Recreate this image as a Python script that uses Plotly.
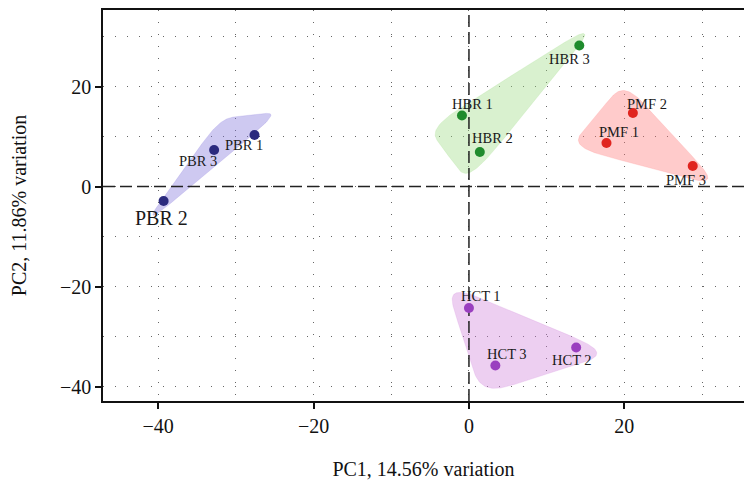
import numpy as np
import plotly.graph_objects as go

# ---- data ----
groups = ["PBR", "HBR", "PMF", "HCT"]
sample_labels = {
    "PBR": ["PBR 1", "PBR 3", "PBR 2"],
    "HBR": ["HBR 1", "HBR 2", "HBR 3"],
    "PMF": ["PMF 1", "PMF 2", "PMF 3"],
    "HCT": ["HCT 1", "HCT 2", "HCT 3"],
}
pc1 = {
    "PBR": [-27.6, -32.8, -39.3],
    "HBR": [-0.9, 1.4, 14.2],
    "PMF": [17.7, 21.1, 28.8],
    "HCT": [0.0, 13.8, 3.4],
}
pc2 = {
    "PBR": [10.3, 7.3, -2.9],
    "HBR": [14.2, 6.9, 28.2],
    "PMF": [8.7, 14.7, 4.1],
    "HCT": [-24.3, -32.2, -35.8],
}
x_ticks = [-40, -20, 0, 20]
y_ticks = [-40, -20, 0, 20]

# ---- style ----
point_color = {"PBR": "#2b2a7e", "HBR": "#1f8b2d", "PMF": "#e0251f", "HCT": "#9a3fbf"}
fill_color = {"PBR": "rgba(125,112,217,0.38)", "HBR": "rgba(155,218,130,0.38)",
              "PMF": "rgba(255,118,118,0.38)", "HCT": "rgba(208,130,218,0.38)"}
# label offsets in pixels (dx right, dy down) and font sizes
label_off = {
    "PBR 1": (-11, 10), "PBR 3": (-16, 11), "PBR 2": (-2, 17),
    "HBR 1": (11, -12), "HBR 2": (13, -14), "HBR 3": (-10, 13),
    "PMF 1": (13, -11), "PMF 2": (14, -9), "PMF 3": (-7, 14),
    "HCT 1": (12, -12), "HCT 2": (-4, 12), "HCT 3": (12, -12),
}
label_size = {"PBR 2": 20}

W, H = 744, 484
ML, MR, MT, MB = 103, 0, 10, 83
xr = [-47.1, 35.4]
yr = [-42.9, 35.3]
PW, PH = W - ML - MR, H - MT - MB
kx = PW / (xr[1] - xr[0])
ky = PH / (yr[1] - yr[0])
FONT = "Liberation Serif"
EXPAND_PX = (37.0, 32.0)   # outward push of hull vertices (x, y), pixels
DIR_YSCALE = 1.7           # y weighting when computing push directions
SHAPE = 0.3                # X-spline shape


def hull(pts):
    pts = sorted(set(pts))
    def cross(o, a, b):
        return (a[0]-o[0])*(b[1]-o[1]) - (a[1]-o[1])*(b[0]-o[0])
    lower, upper = [], []
    for p in pts:
        while len(lower) >= 2 and cross(lower[-2], lower[-1], p) <= 0:
            lower.pop()
        lower.append(p)
    for p in reversed(pts):
        while len(upper) >= 2 and cross(upper[-2], upper[-1], p) <= 0:
            upper.pop()
        upper.append(p)
    return lower[:-1] + upper[:-1]


def f_blend(num, den):
    p = 2 * den * den
    u = num / den
    return u ** 3 * (10 - p + (2 * p - 15) * u + (6 - p) * u * u)


def xspline_closed(P, s=0.5, steps=60):
    P = np.asarray(P, float)
    n = len(P)
    out = []
    for k in range(n):
        p0, p1, p2, p3 = P[(k - 1) % n], P[k], P[(k + 1) % n], P[(k + 2) % n]
        for t in np.linspace(0, 1, steps, endpoint=False):
            a0 = f_blend(t - s, -1 - s) if t < s else 0.0
            a2 = f_blend(t + s, 1 + s)
            a1 = f_blend(t - 1 - s, -1 - s)
            a3 = f_blend(t - 1 + s, 1 + s) if t > 1 - s else 0.0
            w = a0 + a1 + a2 + a3
            out.append((a0 * p0 + a1 * p1 + a2 * p2 + a3 * p3) / w)
    out.append(out[0])
    return np.array(out)


def encircle(xs, ys):
    # convex hull pushed outward from its centre, then closed X-spline (pixel space)
    pts = [(x * kx, y * ky) for x, y in zip(xs, ys)]
    h = np.array(hull(pts))
    m = h.mean(axis=0)
    d = h - m
    d[:, 1] *= DIR_YSCALE
    u = d / np.hypot(d[:, 0], d[:, 1])[:, None]
    h = h + u * np.array(EXPAND_PX)
    c = xspline_closed(h, SHAPE)
    return c[:, 0] / kx, c[:, 1] / ky


fig = go.Figure()

for g in groups:
    hx, hy = encircle(pc1[g], pc2[g])
    fig.add_trace(go.Scatter(x=hx, y=hy, mode="lines", fill="toself",
                             fillcolor=fill_color[g],
                             line=dict(color=fill_color[g], width=0.5),
                             hoverinfo="skip", showlegend=False))

# dashed reference lines at 0
fig.add_trace(go.Scatter(x=[0, 0], y=yr, mode="lines",
                         line=dict(color="#222", width=1.5, dash="12px,5px"),
                         hoverinfo="skip", showlegend=False))
fig.add_trace(go.Scatter(x=xr, y=[0, 0], mode="lines",
                         line=dict(color="#222", width=1.5, dash="12px,5px"),
                         hoverinfo="skip", showlegend=False))

for g in groups:
    fig.add_trace(go.Scatter(x=pc1[g], y=pc2[g], mode="markers",
                             marker=dict(color=point_color[g], size=10),
                             text=sample_labels[g], showlegend=False))
    for lab, x, y in zip(sample_labels[g], pc1[g], pc2[g]):
        dx, dy = label_off[lab]
        fig.add_annotation(x=x, y=y, text=lab, showarrow=False,
                           xshift=dx, yshift=-dy,
                           font=dict(family=FONT, size=label_size.get(lab, 14.5),
                                     color="#1a1a1a"))

axis_common = dict(
    showline=True, linecolor="#111", linewidth=1.5,
    ticks="outside", ticklen=6, tickwidth=1.5, tickcolor="#111",
    showgrid=True, gridcolor="#666", gridwidth=1, griddash="1px,11px",
    zeroline=False,
    tickfont=dict(family=FONT, size=20, color="#111"),
)

fig.update_xaxes(range=xr, tickvals=x_ticks, ticktext=[str(v).replace("-", "\u2212") for v in x_ticks],
                 minor=dict(dtick=10, tick0=0, showgrid=True, gridcolor="#666", griddash="1px,11px", gridwidth=1, ticks=""),
                 mirror=True,
                 title=dict(text="PC1, 14.56% variation", font=dict(family=FONT, size=20, color="#111"), standoff=26),
                 **axis_common)
fig.update_yaxes(range=yr, tickvals=y_ticks, ticktext=[str(v).replace("-", "\u2212") for v in y_ticks],
                 minor=dict(dtick=10, tick0=0, showgrid=True, gridcolor="#666", griddash="1px,11px", gridwidth=1, ticks=""),
                 title=dict(text="PC2, 11.86% variation", font=dict(family=FONT, size=20, color="#111"), standoff=28),
                 **axis_common)

fig.update_layout(width=W, height=H, margin=dict(l=ML, r=MR, t=MT, b=MB),
                  plot_bgcolor="white", paper_bgcolor="white", showlegend=False)

fig.write_html("out.html")
